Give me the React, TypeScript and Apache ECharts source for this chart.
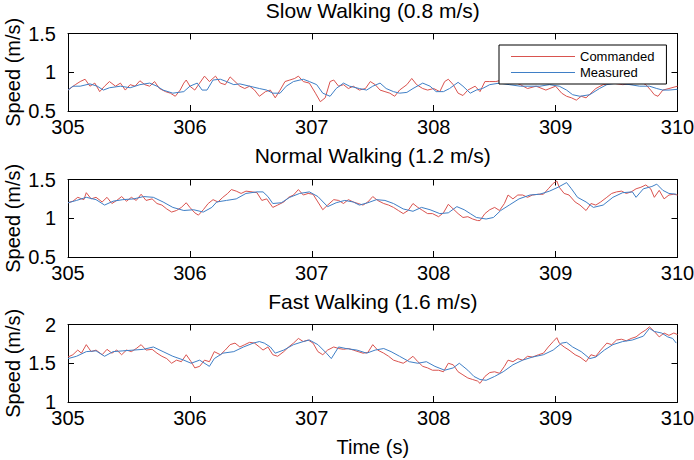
import React, { useEffect, useRef } from "react";
import * as echarts from "echarts";

const titles = ["Slow Walking (0.8 m/s)", "Normal Walking (1.2 m/s)", "Fast Walking (1.6 m/s)"];
const xTicks = [305, 306, 307, 308, 309, 310];
const yMins = [0.5, 0.5, 1];
const yMaxs = [1.5, 1.5, 2];
const seriesNames = ["Commanded", "Measured"];
const xName = "Time (s)";
const yName = "Speed (m/s)";

const slowCommanded: number[][] = [
  [305.0, 0.77], [305.06, 0.84], [305.1, 0.88], [305.14, 0.91], [305.18, 0.82], [305.22, 0.86], [305.26, 0.75],
  [305.3, 0.82], [305.34, 0.88], [305.39, 0.82], [305.43, 0.86], [305.47, 0.77], [305.51, 0.84], [305.55, 0.82],
  [305.59, 0.89], [305.63, 0.84], [305.67, 0.82], [305.71, 0.88], [305.75, 0.79], [305.8, 0.75], [305.84, 0.73],
  [305.88, 0.69], [305.92, 0.77], [305.95, 0.86], [305.97, 0.9], [306.0, 0.82], [306.04, 0.77], [306.08, 0.86],
  [306.12, 0.95], [306.16, 0.88], [306.21, 0.95], [306.25, 0.86], [306.29, 0.84], [306.33, 0.94], [306.37, 0.88],
  [306.41, 0.82], [306.45, 0.79], [306.49, 0.82], [306.53, 0.77], [306.57, 0.69], [306.62, 0.75], [306.66, 0.77],
  [306.7, 0.67], [306.74, 0.77], [306.78, 0.88], [306.82, 0.9], [306.86, 0.92], [306.89, 0.95], [306.93, 0.88],
  [306.98, 0.86], [307.03, 0.73], [307.07, 0.62], [307.11, 0.67], [307.15, 0.88], [307.18, 0.9], [307.22, 0.82],
  [307.26, 0.84], [307.3, 0.79], [307.34, 0.82], [307.39, 0.77], [307.44, 0.79], [307.48, 0.88], [307.52, 0.84],
  [307.56, 0.77], [307.6, 0.75], [307.64, 0.73], [307.68, 0.69], [307.72, 0.77], [307.78, 0.84], [307.82, 0.92],
  [307.86, 0.84], [307.91, 0.79], [307.95, 0.77], [308.0, 0.79], [308.05, 0.75], [308.09, 0.88], [308.12, 0.91],
  [308.16, 0.84], [308.2, 0.73], [308.24, 0.7], [308.28, 0.77], [308.34, 0.82], [308.38, 0.75], [308.42, 0.88],
  [308.46, 0.88], [308.51, 0.88], [308.56, 0.9], [308.6, 0.86], [308.65, 0.88], [308.71, 0.84], [308.77, 0.79],
  [308.84, 0.82], [308.92, 0.77], [309.0, 0.82], [309.05, 0.73], [309.09, 0.69], [309.13, 0.67], [309.17, 0.64],
  [309.21, 0.69], [309.25, 0.67], [309.29, 0.73], [309.33, 0.79], [309.39, 0.84], [309.47, 0.86], [309.55, 0.84],
  [309.63, 0.85], [309.69, 0.88], [309.74, 0.84], [309.78, 0.77], [309.81, 0.71], [309.84, 0.69], [309.88, 0.77],
  [309.93, 0.79], [310.0, 0.82],
];

const slowMeasured: number[][] = [
  [305.0, 0.77], [305.04, 0.82], [305.1, 0.82], [305.18, 0.85], [305.24, 0.82], [305.29, 0.77], [305.34, 0.8],
  [305.43, 0.82], [305.51, 0.8], [305.59, 0.84], [305.67, 0.86], [305.73, 0.82], [305.78, 0.77], [305.86, 0.73],
  [305.95, 0.75], [306.0, 0.82], [306.06, 0.86], [306.1, 0.77], [306.14, 0.77], [306.19, 0.9], [306.25, 0.91],
  [306.3, 0.88], [306.36, 0.84], [306.41, 0.85], [306.49, 0.82], [306.57, 0.79], [306.63, 0.77], [306.68, 0.73],
  [306.74, 0.73], [306.79, 0.82], [306.85, 0.88], [306.93, 0.91], [306.98, 0.88], [307.04, 0.84], [307.09, 0.73],
  [307.15, 0.69], [307.2, 0.79], [307.26, 0.86], [307.31, 0.82], [307.39, 0.79], [307.45, 0.77], [307.5, 0.82],
  [307.56, 0.86], [307.61, 0.79], [307.67, 0.75], [307.72, 0.73], [307.78, 0.74], [307.83, 0.79], [307.91, 0.86],
  [307.97, 0.82], [308.02, 0.75], [308.08, 0.75], [308.13, 0.79], [308.2, 0.87], [308.24, 0.82], [308.3, 0.73],
  [308.35, 0.77], [308.4, 0.79], [308.46, 0.84], [308.54, 0.86], [308.62, 0.84], [308.71, 0.82], [308.79, 0.82],
  [308.87, 0.82], [308.95, 0.84], [309.03, 0.82], [309.09, 0.77], [309.14, 0.71], [309.2, 0.69], [309.28, 0.71],
  [309.36, 0.79], [309.42, 0.84], [309.5, 0.86], [309.61, 0.84], [309.69, 0.82], [309.77, 0.82], [309.83, 0.79],
  [309.88, 0.77], [309.93, 0.77], [310.0, 0.78],
];

const normalCommanded: number[][] = [
  [305.0, 1.2], [305.04, 1.22], [305.08, 1.27], [305.13, 1.24], [305.15, 1.33], [305.19, 1.25], [305.23, 1.27],
  [305.28, 1.21], [305.32, 1.27], [305.36, 1.19], [305.4, 1.23], [305.44, 1.28], [305.48, 1.22], [305.52, 1.27],
  [305.56, 1.23], [305.6, 1.31], [305.64, 1.23], [305.69, 1.25], [305.73, 1.19], [305.77, 1.17], [305.81, 1.12],
  [305.85, 1.08], [305.89, 1.1], [305.93, 1.14], [305.97, 1.2], [306.0, 1.14], [306.04, 1.07], [306.07, 1.04],
  [306.11, 1.11], [306.15, 1.19], [306.19, 1.24], [306.23, 1.21], [306.27, 1.27], [306.31, 1.32], [306.34, 1.37],
  [306.38, 1.35], [306.42, 1.32], [306.46, 1.35], [306.51, 1.34], [306.55, 1.33], [306.59, 1.23], [306.63, 1.25],
  [306.68, 1.14], [306.72, 1.17], [306.77, 1.21], [306.81, 1.27], [306.85, 1.3], [306.89, 1.37], [306.93, 1.3],
  [306.97, 1.32], [307.01, 1.31], [307.05, 1.21], [307.09, 1.11], [307.13, 1.17], [307.18, 1.24], [307.22, 1.23],
  [307.26, 1.19], [307.3, 1.24], [307.34, 1.21], [307.38, 1.19], [307.42, 1.17], [307.46, 1.21], [307.5, 1.28],
  [307.54, 1.23], [307.59, 1.19], [307.63, 1.17], [307.67, 1.14], [307.71, 1.1], [307.75, 1.06], [307.79, 1.1],
  [307.83, 1.19], [307.87, 1.14], [307.91, 1.1], [307.95, 1.06], [307.99, 1.06], [308.04, 1.02], [308.08, 1.07],
  [308.12, 1.18], [308.16, 1.12], [308.2, 1.06], [308.24, 1.01], [308.28, 1.02], [308.32, 0.99], [308.36, 0.97],
  [308.38, 0.97], [308.42, 1.06], [308.46, 1.11], [308.5, 1.14], [308.54, 1.1], [308.58, 1.19], [308.61, 1.3],
  [308.65, 1.25], [308.69, 1.3], [308.73, 1.3], [308.77, 1.27], [308.81, 1.3], [308.86, 1.31], [308.9, 1.31],
  [308.94, 1.38], [308.98, 1.45], [309.01, 1.48], [309.03, 1.4], [309.07, 1.32], [309.11, 1.3], [309.16, 1.21],
  [309.2, 1.17], [309.25, 1.1], [309.29, 1.19], [309.33, 1.17], [309.37, 1.21], [309.42, 1.27], [309.46, 1.32],
  [309.5, 1.34], [309.54, 1.35], [309.58, 1.32], [309.62, 1.34], [309.66, 1.38], [309.7, 1.4], [309.74, 1.43],
  [309.78, 1.38], [309.81, 1.27], [309.85, 1.36], [309.89, 1.25], [309.93, 1.3], [309.97, 1.31], [310.0, 1.3],
];

const normalMeasured: number[][] = [
  [305.0, 1.2], [305.07, 1.23], [305.15, 1.27], [305.23, 1.24], [305.3, 1.17], [305.37, 1.22], [305.45, 1.24],
  [305.54, 1.25], [305.62, 1.28], [305.7, 1.27], [305.78, 1.21], [305.86, 1.14], [305.95, 1.1], [306.03, 1.11],
  [306.11, 1.08], [306.18, 1.14], [306.22, 1.21], [306.3, 1.23], [306.38, 1.25], [306.46, 1.32], [306.55, 1.34],
  [306.6, 1.34], [306.64, 1.28], [306.68, 1.19], [306.75, 1.2], [306.82, 1.27], [306.9, 1.32], [306.98, 1.34],
  [307.05, 1.28], [307.13, 1.15], [307.2, 1.2], [307.27, 1.23], [307.34, 1.21], [307.39, 1.17], [307.46, 1.2],
  [307.53, 1.24], [307.6, 1.23], [307.67, 1.19], [307.75, 1.12], [307.83, 1.09], [307.9, 1.14], [307.97, 1.11],
  [308.05, 1.06], [308.12, 1.07], [308.19, 1.15], [308.25, 1.11], [308.3, 1.06], [308.35, 1.01], [308.43, 0.99],
  [308.49, 1.01], [308.55, 1.1], [308.62, 1.17], [308.7, 1.25], [308.79, 1.3], [308.87, 1.31], [308.95, 1.35],
  [309.02, 1.4], [309.09, 1.46], [309.13, 1.38], [309.18, 1.27], [309.25, 1.21], [309.31, 1.14], [309.39, 1.17],
  [309.47, 1.27], [309.55, 1.33], [309.63, 1.34], [309.66, 1.27], [309.72, 1.38], [309.79, 1.41], [309.83, 1.44],
  [309.88, 1.36], [309.93, 1.32], [309.99, 1.31],
];

const fastCommanded: number[][] = [
  [305.0, 1.58], [305.04, 1.61], [305.08, 1.67], [305.11, 1.63], [305.15, 1.74], [305.19, 1.65], [305.23, 1.67],
  [305.28, 1.61], [305.32, 1.68], [305.36, 1.63], [305.4, 1.67], [305.44, 1.61], [305.48, 1.67], [305.52, 1.65],
  [305.56, 1.69], [305.6, 1.74], [305.64, 1.67], [305.69, 1.68], [305.73, 1.63], [305.77, 1.59], [305.81, 1.56],
  [305.85, 1.5], [305.89, 1.54], [305.93, 1.52], [305.97, 1.61], [306.01, 1.52], [306.04, 1.44], [306.08, 1.46],
  [306.12, 1.54], [306.16, 1.52], [306.2, 1.65], [306.25, 1.61], [306.29, 1.67], [306.33, 1.74], [306.37, 1.76],
  [306.41, 1.71], [306.45, 1.74], [306.49, 1.77], [306.53, 1.76], [306.57, 1.71], [306.6, 1.67], [306.64, 1.71],
  [306.68, 1.61], [306.72, 1.59], [306.77, 1.65], [306.81, 1.71], [306.85, 1.76], [306.89, 1.82], [306.93, 1.78],
  [306.97, 1.8], [307.01, 1.76], [307.05, 1.65], [307.09, 1.61], [307.13, 1.67], [307.18, 1.71], [307.22, 1.69],
  [307.26, 1.68], [307.3, 1.69], [307.34, 1.67], [307.38, 1.65], [307.42, 1.63], [307.46, 1.64], [307.5, 1.74],
  [307.54, 1.67], [307.59, 1.63], [307.63, 1.59], [307.67, 1.54], [307.71, 1.52], [307.75, 1.5], [307.79, 1.54],
  [307.83, 1.59], [307.87, 1.52], [307.91, 1.46], [307.95, 1.44], [307.99, 1.41], [308.04, 1.41], [308.08, 1.39],
  [308.12, 1.5], [308.16, 1.48], [308.2, 1.39], [308.24, 1.35], [308.28, 1.31], [308.32, 1.29], [308.36, 1.27],
  [308.38, 1.24], [308.42, 1.33], [308.46, 1.38], [308.5, 1.39], [308.54, 1.37], [308.58, 1.46], [308.61, 1.54],
  [308.65, 1.52], [308.69, 1.56], [308.73, 1.54], [308.77, 1.59], [308.81, 1.58], [308.86, 1.61], [308.9, 1.63],
  [308.94, 1.71], [308.98, 1.78], [309.01, 1.83], [309.03, 1.76], [309.07, 1.71], [309.11, 1.67], [309.16, 1.61],
  [309.2, 1.58], [309.25, 1.52], [309.29, 1.61], [309.33, 1.59], [309.37, 1.67], [309.42, 1.76], [309.46, 1.74],
  [309.5, 1.8], [309.54, 1.81], [309.58, 1.79], [309.62, 1.82], [309.66, 1.84], [309.7, 1.89], [309.74, 1.93],
  [309.77, 1.97], [309.81, 1.91], [309.85, 1.84], [309.89, 1.89], [309.93, 1.86], [309.97, 1.89], [310.0, 1.87],
];

const fastMeasured: number[][] = [
  [305.0, 1.56], [305.07, 1.59], [305.15, 1.65], [305.23, 1.66], [305.3, 1.59], [305.37, 1.65], [305.45, 1.66],
  [305.54, 1.67], [305.62, 1.68], [305.7, 1.71], [305.78, 1.65], [305.86, 1.59], [305.95, 1.54], [306.01, 1.5],
  [306.08, 1.54], [306.14, 1.48], [306.16, 1.46], [306.2, 1.56], [306.27, 1.63], [306.36, 1.65], [306.44, 1.71],
  [306.52, 1.76], [306.57, 1.78], [306.61, 1.76], [306.66, 1.71], [306.7, 1.63], [306.77, 1.67], [306.85, 1.74],
  [306.93, 1.78], [306.98, 1.8], [307.05, 1.74], [307.12, 1.63], [307.16, 1.56], [307.22, 1.71], [307.28, 1.69],
  [307.37, 1.67], [307.45, 1.63], [307.52, 1.67], [307.59, 1.69], [307.65, 1.65], [307.72, 1.59], [307.8, 1.52],
  [307.87, 1.5], [307.94, 1.52], [308.01, 1.46], [308.09, 1.41], [308.16, 1.44], [308.21, 1.5], [308.28, 1.41],
  [308.33, 1.33], [308.38, 1.29], [308.43, 1.28], [308.5, 1.33], [308.57, 1.39], [308.65, 1.48], [308.73, 1.54],
  [308.81, 1.58], [308.9, 1.61], [308.98, 1.67], [309.05, 1.76], [309.09, 1.77], [309.14, 1.71], [309.21, 1.65],
  [309.28, 1.56], [309.33, 1.58], [309.4, 1.67], [309.47, 1.74], [309.55, 1.78], [309.63, 1.8], [309.72, 1.85],
  [309.77, 1.95], [309.81, 1.91], [309.87, 1.89], [309.92, 1.84], [309.96, 1.82], [309.99, 1.76],
];

const panelData = [
  [slowCommanded, slowMeasured],
  [normalCommanded, normalMeasured],
  [fastCommanded, fastMeasured],
];

const RED = "#d9534f";
const BLUE = "#3f7fc6";
const FONT = "'Liberation Sans', Arial, Helvetica, sans-serif";

export default function App() {
  const ref = useRef<HTMLDivElement>(null);

  useEffect(() => {
    if (!ref.current) return;
    const chart = echarts.init(ref.current, undefined, { renderer: "svg" });

    const tops = [33.5, 179.5, 324.5];
    const left = 68;
    const width = 609.5;
    const height = 77.5;

    const grids = tops.map((t) => ({
      left,
      top: t,
      width,
      height,
      show: false,
      containLabel: false,
      outerBoundsMode: "none",
    }));
    const xAxes: any[] = [];
    const yAxes: any[] = [];
    const series: any[] = [];
    const line = { show: true, onZero: false, lineStyle: { color: "#000", width: 1 } };
    const tick = { show: true, inside: true, length: 6, lineStyle: { color: "#000", width: 1 } };

    tops.forEach((_, i) => {
      xAxes.push({
        gridIndex: i,
        type: "value",
        position: "bottom",
        min: xTicks[0],
        max: xTicks[xTicks.length - 1],
        interval: 1,
        axisLine: line,
        axisTick: tick,
        splitLine: { show: false },
        axisLabel: { color: "#000", fontSize: 20, margin: 6, fontFamily: FONT },
        name: i === 2 ? xName : "",
        nameLocation: "middle",
        nameGap: 35,
        nameMoveOverlap: false,
        nameTextStyle: { color: "#000", fontSize: 20, fontFamily: FONT },
      });
      xAxes.push({
        gridIndex: i,
        type: "value",
        position: "top",
        min: xTicks[0],
        max: xTicks[xTicks.length - 1],
        interval: 1,
        axisLine: line,
        axisTick: tick,
        splitLine: { show: false },
        axisLabel: { show: false },
      });
      yAxes.push({
        gridIndex: i,
        type: "value",
        position: "left",
        min: yMins[i],
        max: yMaxs[i],
        interval: 0.5,
        axisLine: line,
        axisTick: tick,
        splitLine: { show: false },
        axisLabel: { color: "#000", fontSize: 20, margin: 12, fontFamily: FONT },
        name: yName,
        nameLocation: "middle",
        nameGap: 45,
        nameMoveOverlap: false,
        nameTextStyle: { color: "#000", fontSize: 20, fontFamily: FONT },
      });
      yAxes.push({
        gridIndex: i,
        type: "value",
        position: "right",
        min: yMins[i],
        max: yMaxs[i],
        interval: 0.5,
        axisLine: line,
        axisTick: tick,
        splitLine: { show: false },
        axisLabel: { show: false },
      });
      panelData[i].forEach((d, k) => {
        series.push({
          type: "line",
          name: seriesNames[k],
          xAxisIndex: i * 2,
          yAxisIndex: i * 2,
          data: d,
          symbol: "none",
          color: k === 0 ? RED : BLUE,
          itemStyle: { color: k === 0 ? RED : BLUE },
          lineStyle: { width: 1, color: k === 0 ? RED : BLUE },
          z: 2 + k,
        });
      });
    });

    const titleCenter = left + width / 2;
    chart.setOption({
      animation: false,
      textStyle: { fontFamily: FONT },
      title: titles.map((t, i) => ({
        text: t,
        left: titleCenter,
        top: [0, 145, 291][i],
        textAlign: "center",
        padding: 0,
        textStyle: { fontSize: 21, fontWeight: "normal", color: "#000", fontFamily: FONT },
      })),
      legend: {
        data: seriesNames,
        orient: "vertical",
        left: 499,
        top: 45,
        icon: "rect",
        itemWidth: 64,
        itemHeight: 1,
        itemGap: 3,
        padding: [5, 12, 5, 12],
        backgroundColor: "#fff",
        borderColor: "#000",
        borderWidth: 1,
        borderRadius: 0,
        textStyle: { fontSize: 13, color: "#000", fontFamily: FONT },
        z: 10,
      },
      grid: grids,
      xAxis: xAxes,
      yAxis: yAxes,
      series,
    });

    return () => chart.dispose();
  }, []);

  return (
    <div
      ref={ref}
      style={{ position: "fixed", left: 0, top: 0, width: 694, height: 460, background: "#fff" }}
    />
  );
}
